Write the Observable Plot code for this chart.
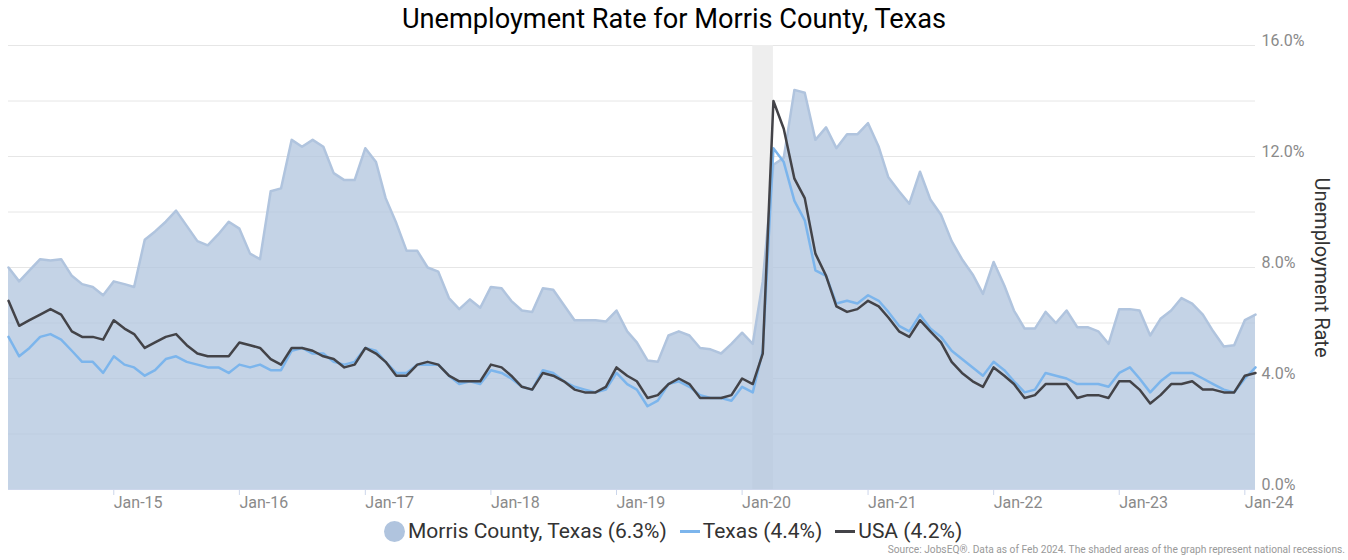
<!DOCTYPE html>
<html><head><meta charset="utf-8">
<script src="https://cdn.jsdelivr.net/npm/d3@7"></script>
<script src="https://cdn.jsdelivr.net/npm/@observablehq/plot@0.6"></script>
<style>
body{margin:0;background:#fff;font-family:Roboto,sans-serif;}
#wrap{position:relative;width:1348px;height:560px;overflow:hidden;background:#fff;}
#chart{position:absolute;left:0;top:0;}
#title{position:absolute;left:0;top:2px;width:1348px;text-align:center;font-size:27.2px;line-height:34px;color:#000;}
#legend{position:absolute;left:384px;top:519px;height:24px;display:flex;align-items:center;font-size:21px;line-height:24px;color:#333;white-space:nowrap;}
#legend .item{display:flex;align-items:center;margin-right:13px;}
#legend .dot{width:21px;height:21px;border-radius:50%;margin-right:3px;}
#legend .ln{width:20px;height:3px;margin-right:3px;}
#source{position:absolute;right:3px;top:544px;font-size:10.2px;line-height:12px;color:#999;white-space:nowrap;}
</style></head>
<body>
<div id="wrap">
  <div id="chart"></div>
  <div id="title">Unemployment Rate for Morris County, Texas</div>
  <div id="legend"></div>
  <div id="source">Source: JobsEQ®. Data as of Feb 2024. The shaded areas of the graph represent national recessions.</div>
</div>
<script>
// Monthly series, Mar 2014 – Feb 2024
const startMonth = "2014-03-01";
const endMonth = "2024-02-01";

const morris = [
  8.0, 7.5, 7.9, 8.3, 8.25, 8.3, 7.7, 7.4, 7.3, 7.0,
  7.5, 7.4, 7.3, 9.0, 9.3, 9.65, 10.05, 9.5, 8.95, 8.8, 9.2, 9.65,
  9.4, 8.5, 8.3, 10.75, 10.85, 12.6, 12.35, 12.6, 12.35, 11.4, 11.15, 11.15,
  12.3, 11.8, 10.5, 9.6, 8.6, 8.6, 8.0, 7.85, 6.9, 6.5, 6.85, 6.55,
  7.3, 7.25, 6.8, 6.45, 6.4, 7.25, 7.2, 6.65, 6.1, 6.1, 6.1, 6.05,
  6.45, 5.7, 5.3, 4.65, 4.6, 5.55, 5.7, 5.55, 5.1, 5.05, 4.9, 5.25,
  5.65, 5.25, 7.5, 11.7, 11.95, 14.4, 14.3, 12.6, 13.05, 12.3, 12.8, 12.8,
  13.2, 12.35, 11.25, 10.75, 10.3, 11.45, 10.45, 9.9, 8.95, 8.3, 7.75, 7.05,
  8.2, 7.35, 6.45, 5.8, 5.8, 6.4, 6.0, 6.45, 5.85, 5.85, 5.7, 5.25,
  6.5, 6.5, 6.45, 5.55, 6.15, 6.45, 6.9, 6.7, 6.3, 5.7, 5.15, 5.2,
  6.1, 6.3
];
const texas = [
  5.5, 4.8, 5.1, 5.5, 5.6, 5.4, 5.0, 4.6, 4.6, 4.2,
  4.8, 4.5, 4.4, 4.1, 4.3, 4.7, 4.8, 4.6, 4.5, 4.4, 4.4, 4.2,
  4.5, 4.4, 4.5, 4.3, 4.3, 5.0, 5.1, 4.9, 4.9, 4.6, 4.5, 4.6,
  5.1, 5.0, 4.6, 4.2, 4.2, 4.5, 4.5, 4.5, 4.1, 3.8, 3.9, 3.8,
  4.3, 4.2, 4.0, 3.7, 3.6, 4.3, 4.2, 3.9, 3.7, 3.6, 3.5, 3.6,
  4.2, 3.8, 3.6, 3.0, 3.2, 3.8, 3.9, 3.7, 3.4, 3.3, 3.3, 3.2,
  3.7, 3.5, 5.0, 12.3, 11.8, 10.4, 9.7, 7.9, 7.7, 6.7, 6.8, 6.7,
  7.0, 6.8, 6.4, 5.9, 5.7, 6.3, 5.8, 5.5, 5.0, 4.7, 4.4, 4.1,
  4.6, 4.3, 3.9, 3.5, 3.6, 4.2, 4.1, 4.0, 3.8, 3.8, 3.8, 3.7,
  4.2, 4.4, 4.0, 3.5, 3.9, 4.2, 4.2, 4.2, 4.0, 3.8, 3.6, 3.5,
  4.0, 4.4
];
const usa = [
  6.8, 5.9, 6.1, 6.3, 6.5, 6.3, 5.7, 5.5, 5.5, 5.4,
  6.1, 5.8, 5.6, 5.1, 5.3, 5.5, 5.6, 5.2, 4.9, 4.8, 4.8, 4.8,
  5.3, 5.2, 5.1, 4.7, 4.5, 5.1, 5.1, 5.0, 4.8, 4.7, 4.4, 4.5,
  5.1, 4.9, 4.6, 4.1, 4.1, 4.5, 4.6, 4.5, 4.1, 3.9, 3.9, 3.9,
  4.5, 4.4, 4.1, 3.7, 3.6, 4.2, 4.1, 3.9, 3.6, 3.5, 3.5, 3.7,
  4.4, 4.1, 3.9, 3.3, 3.4, 3.8, 4.0, 3.8, 3.3, 3.3, 3.3, 3.4,
  4.0, 3.8, 4.9, 14.0, 13.0, 11.2, 10.5, 8.5, 7.7, 6.6, 6.4, 6.5,
  6.8, 6.6, 6.2, 5.7, 5.5, 6.1, 5.7, 5.3, 4.6, 4.2, 3.9, 3.7,
  4.4, 4.1, 3.8, 3.3, 3.4, 3.8, 3.8, 3.8, 3.3, 3.4, 3.4, 3.3,
  3.9, 3.9, 3.6, 3.1, 3.4, 3.8, 3.8, 3.9, 3.6, 3.6, 3.5, 3.5,
  4.1, 4.2
];

const seriesNames = ["Morris County, Texas", "Texas", "USA"];
const seriesLatest = ["6.3%", "4.4%", "4.2%"];
const seriesColors = ["#b0c4de", "#7cb5ec", "#434348"];
const recessionStart = ["2020-02-01"];
const recessionEnd = ["2020-04-01"];
const xTickYears = [2015, 2016, 2017, 2018, 2019, 2020, 2021, 2022, 2023, 2024];
const yLabelTicks = [0, 4, 8, 12, 16];
const yGridTicks = [0, 2, 4, 6, 8, 10, 12, 14, 16];

const months = d3.utcMonth.range(new Date(startMonth), d3.utcMonth.offset(new Date(endMonth), 1));
const data = months.map((date, i) => ({date, morris: morris[i], texas: texas[i], usa: usa[i]}));
const recessions = recessionStart.map((s, i) => ({start: new Date(s), end: new Date(recessionEnd[i])}));
const yearTicks = xTickYears.map(y => new Date(Date.UTC(y, 0, 1)));

const chart = Plot.plot({
  width: 1348, height: 560,
  marginTop: 45, marginBottom: 71, marginLeft: 8, marginRight: 93,
  style: {fontFamily: "Roboto, sans-serif", background: "transparent", overflow: "visible"},
  x: {type: "utc", domain: [months[0], months[months.length - 1]], label: null},
  y: {domain: [0, 16], label: null},
  marks: [
    Plot.gridY(yGridTicks, {stroke: "#e6e6e6", strokeOpacity: 1}),
    Plot.rect(recessions, {x1: "start", x2: "end", y1: 0, y2: 16, fill: "#eeeeee"}),
    Plot.areaY(data, {x: "date", y: "morris", fill: seriesColors[0], fillOpacity: 0.75}),
    Plot.lineY(data, {x: "date", y: "morris", stroke: seriesColors[0], strokeWidth: 2.5}),
    Plot.lineY(data, {x: "date", y: "texas", stroke: seriesColors[1], strokeWidth: 2.5}),
    Plot.lineY(data, {x: "date", y: "usa", stroke: seriesColors[2], strokeWidth: 2.5}),
    Plot.ruleY([0], {stroke: "#ccd6eb"}),
    Plot.axisX(yearTicks, {tickSize: 6, tickPadding: 1, tickFormat: d3.utcFormat("%b-%y"), textAnchor: "start", fontSize: 16, stroke: "#ccd6eb", fill: "#8a8a8a", label: null}),
    Plot.axisY(yLabelTicks, {anchor: "right", tickSize: 0, tickPadding: 6, tickFormat: d => d.toFixed(1) + "%", dy: -5, fontSize: 16, fill: "#8a8a8a", textAnchor: "start", label: null}),
    Plot.text(["Unemployment Rate"], {frameAnchor: "right", textAnchor: "middle", dx: 66, rotate: 90, fontSize: 20, fill: "#333"})
  ]
});
document.getElementById("chart").appendChild(chart);

const legend = document.getElementById("legend");
seriesNames.forEach((name, i) => {
  const item = document.createElement("div");
  item.className = "item";
  const sym = document.createElement("span");
  sym.className = i === 0 ? "dot" : "ln";
  sym.style.background = seriesColors[i];
  const label = document.createElement("span");
  label.textContent = `${name} (${seriesLatest[i]})`;
  item.appendChild(sym);
  item.appendChild(label);
  legend.appendChild(item);
});
</script>
</body></html>
